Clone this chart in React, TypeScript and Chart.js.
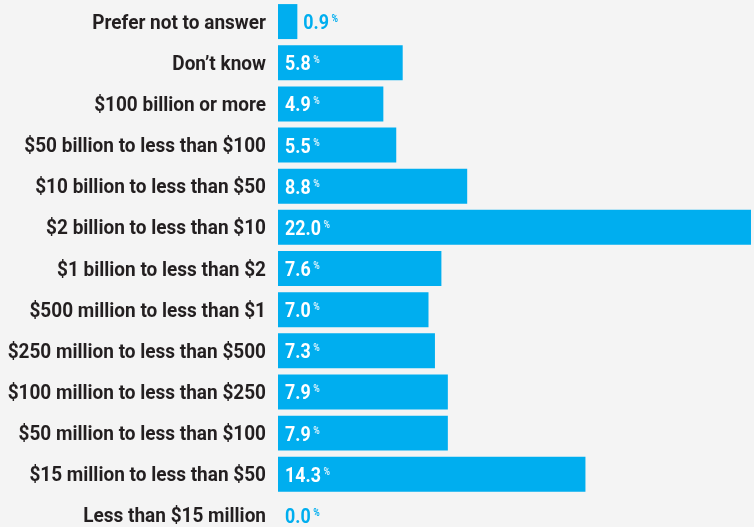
import React, { useEffect, useRef } from "react";
import { Chart, registerables } from "chart.js";

Chart.register(...registerables);

const categories: string[] = [
  "Prefer not to answer",
  "Don\u2019t know",
  "$100 billion or more",
  "$50 billion to less than $100",
  "$10 billion to less than $50",
  "$2 billion to less than $10",
  "$1 billion to less than $2",
  "$500 million to less than $1",
  "$250 million to less than $500",
  "$100 million to less than $250",
  "$50 million to less than $100",
  "$15 million to less than $50",
  "Less than $15 million",
];

const shares: number[] = [0.9, 5.8, 4.9, 5.5, 8.8, 22.0, 7.6, 7.0, 7.3, 7.9, 7.9, 14.3, 0.0];

const BAR = "#00aeef";
const INK = "#231f20";
const BG = "#f4f4f4";
const FONT = "Roboto, 'Liberation Sans', sans-serif";

function drawSqueezed(
  ctx: CanvasRenderingContext2D,
  txt: string,
  x: number,
  y: number,
  align: "left" | "right",
  sx: number
) {
  ctx.save();
  ctx.translate(x, y);
  ctx.scale(sx, 1);
  ctx.textAlign = align;
  ctx.textBaseline = "alphabetic";
  ctx.fillText(txt, 0, 0);
  ctx.restore();
  return ctx.measureText(txt).width * sx;
}

const labelsPlugin = {
  id: "labelsPlugin",
  afterDatasetsDraw(chart: any) {
    const ctx: CanvasRenderingContext2D = chart.ctx;
    const meta = chart.getDatasetMeta(0);
    const data = chart.data.datasets[0].data as number[];
    const labels = chart.data.labels as string[];
    ctx.save();
    meta.data.forEach((bar: any, i: number) => {
      const y = bar.y;
      // category label
      ctx.font = `bold 20px ${FONT}`;
      ctx.fillStyle = INK;
      drawSqueezed(ctx, labels[i], bar.base - 12, y + 7, "right", 0.95);
      // value label
      const v = data[i];
      const txt = v.toFixed(1);
      const outside = v < 2;
      const x = outside ? (v > 0 ? bar.x + 6 : bar.base + 7) : bar.base + 7;
      ctx.font = `bold 21px ${FONT}`;
      ctx.fillStyle = outside ? BAR : "#ffffff";
      const w = drawSqueezed(ctx, txt, x, y + 7.5, "left", 0.85);
      ctx.font = `bold 11px ${FONT}`;
      ctx.fillStyle = outside ? BAR : "#d6f1fc";
      drawSqueezed(ctx, "%", x + w + 2.5, y + 0.5, "left", 0.8);
    });
    ctx.restore();
  },
};

export default function App() {
  const ref = useRef<HTMLCanvasElement | null>(null);

  useEffect(() => {
    document.body.style.margin = "0";
    document.body.style.background = BG;
    document.documentElement.style.overflow = "hidden";
    const canvas = ref.current;
    if (!canvas) return;
    const chart = new Chart(canvas, {
      type: "bar",
      data: {
        labels: categories,
        datasets: [
          {
            data: shares,
            backgroundColor: BAR,
            borderWidth: 0,
            barPercentage: 0.85,
            categoryPercentage: 1,
          },
        ],
      },
      options: {
        indexAxis: "y",
        animation: false,
        responsive: false,
        maintainAspectRatio: false,
        layout: { padding: { top: 1, right: 0, bottom: 0, left: 278 } },
        plugins: {
          legend: { display: false },
          tooltip: { enabled: false },
        },
        scales: {
          x: {
            display: false,
            min: 0,
            max: 22.14,
          },
          y: {
            display: false,
          },
        },
      },
      plugins: [labelsPlugin],
    });
    return () => chart.destroy();
  }, []);

  return (
    <div style={{ position: "fixed", left: 0, top: 0, width: 754, height: 536, background: BG }}>
      <canvas ref={ref} width={754} height={536} style={{ display: "block" }} />
    </div>
  );
}
